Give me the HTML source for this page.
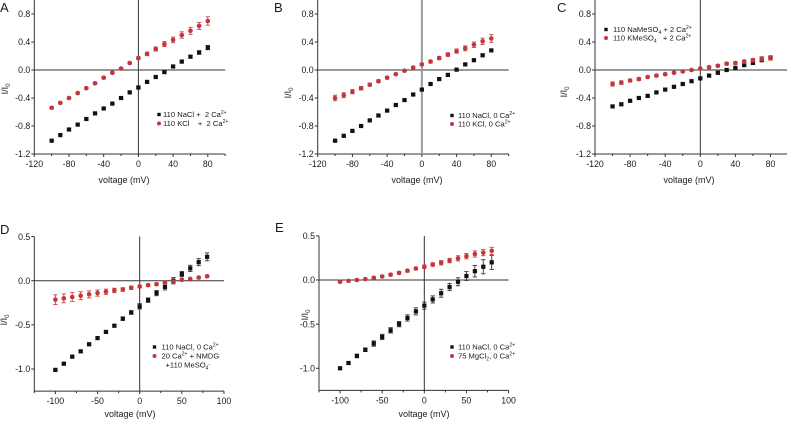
<!DOCTYPE html>
<html><head><meta charset="utf-8">
<style>
html,body{margin:0;padding:0;background:#fff;}
svg{display:block;}
text{font-family:"Liberation Sans",Arial,sans-serif;fill:#1a1a1a;white-space:pre;}
</style></head>
<body>
<svg id="s" width="787" height="421" viewBox="0 0 787 421" xmlns="http://www.w3.org/2000/svg" xml:space="preserve">
<rect width="787" height="421" fill="#fff"/>
</svg>
<script>
const NS="http://www.w3.org/2000/svg";
const S=document.getElementById('s');
function el(tag,attrs,parent,txt){const e=document.createElementNS(NS,tag);for(const k in attrs)e.setAttribute(k,attrs[k]);(parent||S).appendChild(e);if(txt!==undefined)e.textContent=txt;return e;}
const RED="#c4363a", BLK="#111";
const LFS=7.6, SFS=5;
function panel(p){
  const X=v=>p.xl+(v-p.xmin)*p.xs;
  const Y=v=>p.y0-v*p.ys;
  const xr=X(p.xmax), yt=Y(p.ymax), yb=Y(p.ymin);
  const g=el('g',{});
  el('line',{x1:p.xl,y1:yt,x2:p.xl,y2:yb+0.5,stroke:'#333','stroke-width':1},g);
  el('line',{x1:p.xl-0.5,y1:yb,x2:xr,y2:yb,stroke:'#333','stroke-width':1},g);
  el('line',{x1:p.xl,y1:Y(0),x2:xr,y2:Y(0),stroke:'#333','stroke-width':1},g);
  el('line',{x1:X(0),y1:yt,x2:X(0),y2:yb,stroke:p.vzc||'#333','stroke-width':p.vzw||1},g);
  for(let v=p.xmin;v<=p.xmax+1e-6;v+=p.xminor){
    const major=p.xticks.some(t=>Math.abs(t-v)<1e-6);
    el('line',{x1:X(v),y1:yb,x2:X(v),y2:yb+(major?3:2),stroke:'#333','stroke-width':1},g);
  }
  p.xticks.forEach(v=>{el('text',{x:X(v),y:yb+13,'font-size':8.8,'text-anchor':'middle'},g,String(v));});
  p.yticks.forEach(v=>{
    el('line',{x1:p.xl-3,y1:Y(v),x2:p.xl,y2:Y(v),stroke:'#333','stroke-width':1},g);
    el('text',{x:p.xl-4,y:Y(v)+3.2,'font-size':8.8,'text-anchor':'end'},g,v.toFixed(1));
  });
  el('text',{x:p.xtx,y:p.xty,'font-size':9,'text-anchor':'middle'},g,'voltage (mV)');
  const yl=el('text',{x:0,y:0,'font-size':9,'text-anchor':'middle',transform:`translate(${p.ytx},${p.yty}) rotate(-90)`},g);
  el('tspan',{},yl,'I/I');
  el('tspan',{'font-size':6,dy:2},yl,'0');
  el('text',{x:p.lx,y:p.ly,'font-size':13},g,p.letter);
  const V=[];for(let v=-100;v<=80;v+=10)V.push(v);
  function series(vals,errs,color,shape){
    V.forEach((v,i)=>{
      const x=X(v),y=Y(vals[i]),e=errs[i];
      const y1=Y(vals[i]+e),y2=Y(vals[i]-e);
      const ec=color===RED?'#c9484b':'#333';
      el('line',{x1:x,y1:y1,x2:x,y2:y2,stroke:ec,'stroke-width':0.9},g);
      el('line',{x1:x-2.2,y1:y1,x2:x+2.2,y2:y1,stroke:ec,'stroke-width':0.9},g);
      el('line',{x1:x-2.2,y1:y2,x2:x+2.2,y2:y2,stroke:ec,'stroke-width':0.9},g);
      if(shape==='s') el('rect',{x:x-2.1,y:y-2.1,width:4.2,height:4.2,fill:color},g);
      else el('circle',{cx:x,cy:y,r:2.3,fill:color},g);
    });
  }
  series(p.b,p.be,BLK,'s');
  series(p.r,p.re,RED,'c');
  p.leg.forEach(l=>{
    if(l.m==='s') el('rect',{x:l.mx-1.7,y:l.y-4.2,width:3.4,height:3.4,fill:BLK},g);
    else if(l.m==='c') el('circle',{cx:l.mx,cy:l.y-2.5,r:2,fill:RED},g);
    const t=el('text',{x:l.tx,y:l.y,'font-size':LFS},g);
    l.parts.forEach(pt=>{
      if(typeof pt==='string') el('tspan',{'font-size':LFS},t,pt);
      else el('tspan',{'font-size':pt.fs||LFS,dy:pt.dy||0},t,pt.t);
    });
  });
}
function fill(n,v){return Array(n).fill(v);}
const sup=t=>({t:t,dy:-3,fs:SFS}), sub=t=>({t:t,dy:2,fs:SFS}), nrm=(t,dy)=>({t:t,dy:dy,fs:LFS});
panel({xl:34.3,xs:0.8675,xmin:-120,xmax:100,y0:70,ys:70,ymin:-1.2,ymax:1.0,
 xticks:[-120,-80,-40,0,40,80],xminor:20,yticks:[-1.2,-0.8,-0.4,0,0.4,0.8],
 xtx:124,xty:183,ytx:8,yty:89,lx:0,ly:12,letter:'A',
 b:[-1.01,-0.93,-0.85,-0.78,-0.70,-0.62,-0.55,-0.48,-0.40,-0.32,-0.25,-0.17,-0.10,-0.03,0.05,0.12,0.19,0.25,0.32],
 be:[.01,.01,.01,.01,.01,.01,.01,.01,.01,.01,.012,.012,.012,.012,.015,.02,.02,.025,.03],
 r:[-0.54,-0.47,-0.40,-0.33,-0.26,-0.19,-0.11,-0.04,0.02,0.10,0.17,0.23,0.30,0.37,0.43,0.50,0.56,0.63,0.70],
 re:[.015,.015,.015,.015,.015,.015,.015,.015,.015,.015,.02,.025,.03,.035,.04,.045,.05,.05,.06],
 leg:[{m:'s',mx:159,tx:163,y:117,parts:['110 NaCl +  2 Ca',sup('2+')]},
      {m:'c',mx:159,tx:163,y:126,parts:['110 KCl    +  2 Ca',sup('2+')]}]});
panel({xl:317.7,xs:0.868,xmin:-120,xmax:100,y0:70,ys:70,ymin:-1.2,ymax:1.0,
 xticks:[-120,-80,-40,0,40,80],xminor:20,yticks:[-1.2,-0.8,-0.4,0,0.4,0.8],
 vzc:'#9a9a9a',vzw:2,
 xtx:417,xty:183,ytx:291,yty:93,lx:274,ly:12,letter:'B',
 b:[-1.01,-0.94,-0.87,-0.80,-0.72,-0.65,-0.58,-0.50,-0.43,-0.35,-0.28,-0.20,-0.13,-0.07,0.005,0.08,0.14,0.21,0.28],
 be:fill(19,.012),
 r:[-0.40,-0.36,-0.31,-0.26,-0.21,-0.16,-0.11,-0.06,-0.01,0.035,0.08,0.12,0.17,0.22,0.27,0.31,0.36,0.41,0.45],
 re:[.04,.035,.03,.025,.02,.02,.02,.015,.015,.015,.015,.02,.02,.025,.03,.035,.04,.045,.055],
 leg:[{m:'s',mx:452,tx:458,y:118,parts:['110 NaCl, 0 Ca',sup('2+')]},
      {m:'c',mx:452,tx:458,y:126.5,parts:['110 KCl, 0 Ca',sup('2+')]}]});
panel({xl:595,xs:0.8775,xmin:-120,xmax:100,y0:70,ys:70,ymin:-1.2,ymax:1.0,
 xticks:[-120,-80,-40,0,40,80],xminor:20,yticks:[-1.2,-0.8,-0.4,0,0.4,0.8],
 xtx:689,xty:183,ytx:567,yty:92,lx:557,ly:12,letter:'C',
 b:[-0.52,-0.49,-0.44,-0.40,-0.37,-0.32,-0.28,-0.24,-0.20,-0.16,-0.12,-0.08,-0.04,0.00,0.03,0.07,0.10,0.14,0.18],
 be:fill(19,.015),
 r:[-0.20,-0.18,-0.15,-0.13,-0.10,-0.08,-0.06,-0.04,-0.02,0.00,0.02,0.04,0.06,0.09,0.10,0.12,0.14,0.16,0.17],
 re:[.03,.025,.02,.02,.015,.015,.015,.015,.015,.015,.015,.015,.015,.02,.02,.025,.025,.03,.03],
 leg:[{m:'s',mx:606,tx:613,y:32,parts:['110 NaMeSO',sub('4'),nrm(' + 2 Ca',-2),sup('2+')]},
      {m:'c',mx:606,tx:613,y:40.5,parts:['110 KMeSO',sub('4'),nrm('   + 2 Ca',-2),sup('2+')]}]});
panel({xl:34.3,xs:0.843,xmin:-125,xmax:100,y0:280.7,ys:88.3,ymin:-1.25,ymax:0.5,
 xticks:[-100,-50,0,50,100],xminor:25,yticks:[-1.0,-0.5,0,0.5],
 xtx:130,xty:417,ytx:7,yty:320,lx:0,ly:234,letter:'D',
 b:[-1.01,-0.94,-0.86,-0.80,-0.72,-0.65,-0.58,-0.51,-0.43,-0.36,-0.29,-0.22,-0.14,-0.07,0.00,0.075,0.14,0.21,0.27],
 be:[.01,.012,.012,.012,.012,.012,.012,.015,.02,.02,.03,.025,.03,.035,.035,.03,.035,.04,.045],
 r:[-0.215,-0.20,-0.185,-0.17,-0.155,-0.14,-0.125,-0.11,-0.10,-0.08,-0.065,-0.05,-0.04,-0.02,-0.01,0.01,0.02,0.035,0.05],
 re:[.055,.05,.05,.045,.04,.035,.03,.025,.02,.02,.015,.015,.012,.012,.012,.012,.012,.012,.012],
 leg:[{m:'s',mx:154.5,tx:161.5,y:349.5,parts:['110 NaCl, 0 Ca',sup('2+')]},
      {m:'c',mx:154.5,tx:161.5,y:358.5,parts:['20 Ca',sup('2+'),nrm(' + NMDG',3)]},
      {m:'',mx:0,tx:165.5,y:367.5,parts:['+110 MeSO',sub('4'),{t:'-',dy:-4,fs:SFS}]}]});
panel({xl:319,xs:0.8425,xmin:-125,xmax:100,y0:280,ys:88.3,ymin:-1.25,ymax:0.5,
 xticks:[-100,-50,0,50,100],xminor:25,yticks:[-1.0,-0.5,0,0.5],
 xtx:424,xty:417,ytx:308,yty:315,lx:275,ly:232,letter:'E',
 b:[-1.00,-0.94,-0.86,-0.79,-0.72,-0.645,-0.57,-0.50,-0.43,-0.355,-0.29,-0.22,-0.15,-0.08,-0.02,0.045,0.10,0.15,0.20],
 be:[.012,.015,.02,.02,.03,.03,.03,.03,.035,.04,.04,.04,.045,.04,.045,.05,.065,.08,.08],
 r:[-0.02,-0.01,0.00,0.01,0.025,0.04,0.06,0.08,0.105,0.13,0.15,0.175,0.195,0.22,0.245,0.27,0.295,0.31,0.33],
 re:[.012,.012,.012,.012,.012,.012,.012,.015,.015,.015,.02,.02,.025,.025,.03,.03,.035,.035,.04],
 leg:[{m:'s',mx:452,tx:458,y:349.5,parts:['110 NaCl, 0 Ca',sup('2+')]},
      {m:'c',mx:452,tx:458,y:358.5,parts:['75 MgCl',sub('2'),nrm(', 0 Ca',-2),sup('2+')]}]});
</script>
</body></html>
